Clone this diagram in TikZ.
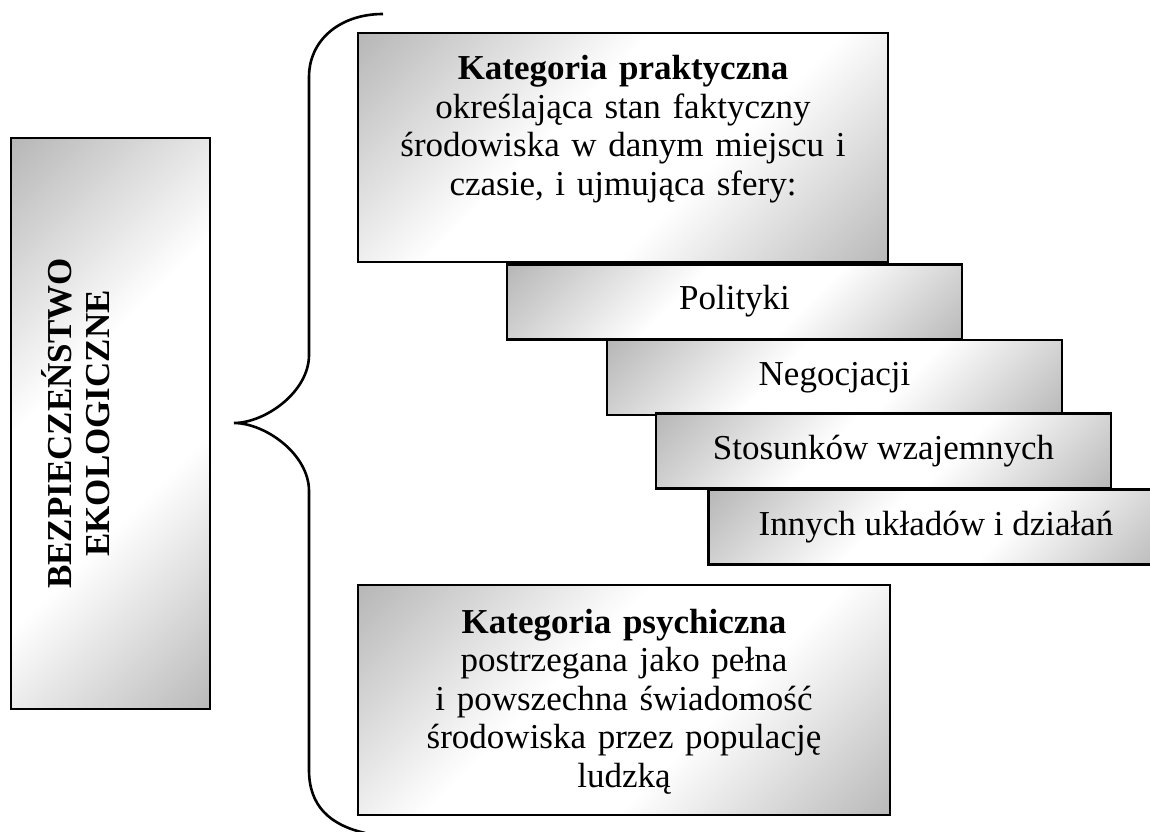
\documentclass[tikz,border=0pt]{standalone}
\usepackage{fontspec}
\setmainfont{Liberation Serif}
\usepackage{tikz}

\pgfdeclareverticalshading{boxshade}{100bp}{color(0bp)=(black!36); color(15bp)=(black!27);
  color(40bp)=(white); color(58bp)=(white); color(85bp)=(black!28); color(100bp)=(black!36)}

\tikzset{
  shadebox/.style={draw, line width=2.6pt, shade, shading=boxshade, shading angle=45, inner sep=0pt},
  stepbox/.style={shadebox, minimum width=455pt, minimum height=75pt,
    text height=24pt, text depth=8pt},
  boxtext/.style={align=center, text width=510pt, inner sep=0pt, anchor=base},
}

\begin{document}
\begin{tikzpicture}[x=1pt, y=1pt, every node/.style={font=\fontsize{35}{38.5}\selectfont}]
        % Frame
        \useasboundingbox (0,0) rectangle (1150,831);
        \clip (0,0) rectangle (1150,831);

        % Main notion
        \node[shadebox, minimum width=199pt, minimum height=571pt] (bezpieczenstwo) at (110.5,407.5) {};
        \node[boxtext, text width=540pt, rotate=90, font=\fontsize{35}{38.5}\selectfont\bfseries]
            (bezpieczenstwo-txt) at (71,407.5) {BEZPIECZEŃSTWO\\EKOLOGICZNE};

        % Brace
        \draw[line width=2.6pt] (383,817) .. controls (340,817) and (309,791) .. (309,754)
            -- (309,476) .. controls (309,439) and (265,408) .. (234,408)
            .. controls (265,408) and (309,377) .. (309,340)
            -- (309,61) .. controls (309,25) and (330,6) .. (365,-2);

        % Practical category
        \node[shadebox, minimum width=530pt, minimum height=229pt] (praktyczna) at (623,683.5) {};
        \node[boxtext] (praktyczna-txt) at (623,751)
            {\textbf{Kategoria praktyczna}\\określająca stan faktyczny\\środowiska w danym miejscu i\\czasie, i ujmująca sfery:};

        % Spheres
        \foreach \name/\x/\y/\txt in {polityki/734.5/529/Polityki,
                                        negocjacje/834.5/453.5/Negocjacji,
                                        stosunki/883.5/380/Stosunków wzajemnych,
                                        inne/936/304/Innych układów i działań} {
            \node[stepbox] (\name) at (\x,\y) {\txt};
        }

        % Psychical category
        \node[shadebox, minimum width=532pt, minimum height=230pt] (psychiczna) at (624,131) {};
        \node[boxtext] (psychiczna-txt) at (624,198)
            {\textbf{Kategoria psychiczna}\\postrzegana jako pełna\\i powszechna świadomość\\środowiska przez populację\\ludzką};
    \end{tikzpicture}
\end{document}
